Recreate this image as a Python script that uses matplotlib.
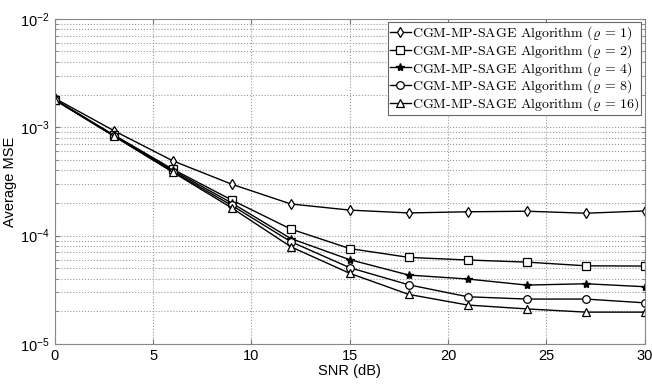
import numpy as np
import matplotlib
matplotlib.use("Agg")
import matplotlib.pyplot as plt

snr = [0, 3, 6, 9, 12, 15, 18, 21, 24, 27, 30]

mse_r1 = [1.85e-3, 9.3e-4, 4.9e-4, 2.98e-4, 1.96e-4, 1.72e-4, 1.62e-4, 1.66e-4, 1.68e-4, 1.61e-4, 1.69e-4]
mse_r2 = [1.8e-3, 8.5e-4, 4.1e-4, 2.13e-4, 1.15e-4, 7.6e-5, 6.3e-5, 5.96e-5, 5.7e-5, 5.27e-5, 5.24e-5]
mse_r4 = [1.8e-3, 8.4e-4, 4.0e-4, 2.0e-4, 9.4e-5, 6.0e-5, 4.33e-5, 3.98e-5, 3.5e-5, 3.6e-5, 3.38e-5]
mse_r8 = [1.8e-3, 8.3e-4, 3.9e-4, 1.9e-4, 8.8e-5, 5.06e-5, 3.52e-5, 2.73e-5, 2.6e-5, 2.6e-5, 2.4e-5]
mse_r16 = [1.78e-3, 8.3e-4, 3.85e-4, 1.8e-4, 7.9e-5, 4.49e-5, 2.87e-5, 2.29e-5, 2.11e-5, 1.97e-5, 1.97e-5]

labels = [r"CGM-MP-SAGE Algorithm ($\varrho$ = 1)",
          r"CGM-MP-SAGE Algorithm ($\varrho$ = 2)",
          r"CGM-MP-SAGE Algorithm ($\varrho$ = 4)",
          r"CGM-MP-SAGE Algorithm ($\varrho$ = 8)",
          r"CGM-MP-SAGE Algorithm ($\varrho$ = 16)"]
markers = ["d", "s", "*", "o", "^"]

plt.rcParams['font.family'] = ['Liberation Sans', 'DejaVu Sans']
plt.rcParams['mathtext.fontset'] = 'cm'

fig = plt.figure(figsize=(6.52, 3.84), dpi=100)
ax = fig.add_axes([0.084, 0.104, 0.905, 0.847])

for y, lab, m in zip([mse_r1, mse_r2, mse_r4, mse_r8, mse_r16], labels, markers):
    if m == "*":
        ax.plot(snr, y, color='black', lw=1.0, marker=m, ms=6, mfc='black', mec='black', label=lab)
    else:
        ax.plot(snr, y, color='black', lw=1.0, marker=m, ms=5.5, mfc='white', mec='black', mew=0.9, label=lab)

ax.set_yscale('log')
ax.set_xlim(0, 30)
ax.set_ylim(1e-5, 1e-2)
ax.set_xticks([0, 5, 10, 15, 20, 25, 30])
ax.grid(True, which='major', linestyle=':', color='#999999', lw=0.8)
ax.grid(True, which='minor', axis='y', linestyle=':', color='#999999', lw=0.8)
ax.tick_params(which='both', direction='in', top=True, right=True, labelsize=10.5, color='#777777')
for s in ax.spines.values():
    s.set_color('#888888')
ax.set_xlabel('SNR (dB)', fontsize=10.5, labelpad=1)
ax.set_ylabel('Average MSE', fontsize=10.5, labelpad=2)

leg = ax.legend(loc='upper right', prop={'family': 'cmr10', 'size': 10}, fancybox=False,
                framealpha=1, edgecolor='#666666', handlelength=1.5, handletextpad=0.1,
                borderpad=0.15, labelspacing=0.0, borderaxespad=0.25)
leg.get_frame().set_linewidth(0.8)

fig.savefig('out.png', dpi=100)
